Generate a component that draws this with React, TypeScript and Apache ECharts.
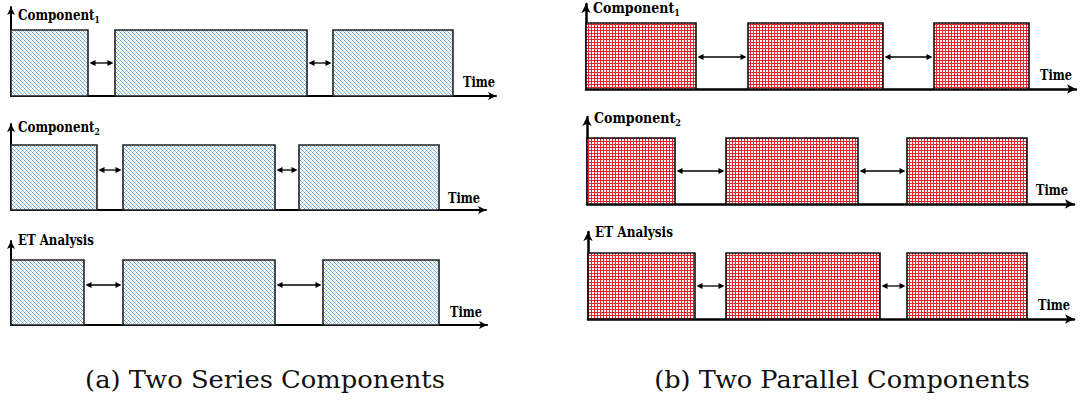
import { useEffect, useRef } from "react";
import * as echarts from "echarts";

// ---------------- DATA ----------------
const panelCaptions = ["(a) Two Series Components", "(b) Two Parallel Components"];
const rowNames = ["Component", "Component", "ET Analysis", "Component", "Component", "ET Analysis"];
const rowSubscripts = ["1", "2", "", "1", "2", ""];
const timeAxisName = "Time";

// busy intervals [start, end] in time units, per timeline
const seriesComp1Busy = [[0, 77], [104, 296], [322, 442]];
const seriesComp2Busy = [[0, 86], [112, 264], [288, 428]];
const seriesETBusy = [[0, 73], [112, 264], [312, 428]];
const parallelComp1Busy = [[0, 110], [162, 297], [348, 443]];
const parallelComp2Busy = [[0, 88], [139, 271], [320, 440]];
const parallelETBusy = [[0, 107], [138, 292], [319, 439]];

const timeAxisMax = [485, 475, 476, 490, 487, 486];
const levelAxisMax = [89, 86, 84, 85, 87, 87];
const busyLevel = [66, 65, 65, 66, 66, 66];
const idleArrowLevel = [33, 40, 40, 32, 33, 33];

// ---------------- LAYOUT ----------------
const FONT = "DejaVu Serif";
const gridBoxes = [
  { left: 11, top: 7 },
  { left: 11, top: 124 },
  { left: 11, top: 241 },
  { left: 586, top: 4 },
  { left: 587, top: 117 },
  { left: 588, top: 232 },
];
const labelPos = [
  [18, 15], [18, 127], [18, 240], [593, 8], [594, 118], [595, 232],
];
const labelWidth = [82, 82, 76, 87, 87, 78];
const timePos = [
  [495, 82], [480, 198], [482, 312], [1072, 75], [1068, 190], [1070, 305],
];
const timeWidth = 32;
const captionLayout = [
  { cx: 265, width: 360 },
  { cx: 842, width: 376 },
];
const captionY = 380;

function makeTile(kind: "blue" | "red"): string {
  const c = document.createElement("canvas");
  const n = kind === "blue" ? 4 : 3;
  c.width = n;
  c.height = n;
  const ctx = c.getContext("2d")!;
  ctx.fillStyle = "#ffffff";
  ctx.fillRect(0, 0, n, n);
  if (kind === "blue") {
    ctx.fillStyle = "#5e9ddb";
    ctx.fillRect(0, 0, 1, 1);
    ctx.fillRect(2, 2, 1, 1);
    ctx.fillStyle = "#8fbde9";
    ctx.fillRect(1, 1, 1, 1);
    ctx.fillRect(3, 3, 1, 1);
    ctx.fillStyle = "#c2daf3";
    ctx.fillRect(3, 1, 1, 1);
    ctx.fillRect(1, 3, 1, 1);
  } else {
    ctx.fillStyle = "#e2262b";
    ctx.fillRect(0, 0, n, 1);
    ctx.fillRect(0, 0, 1, n);
  }
  return c.toDataURL();
}

export default function App() {
  const ref = useRef<HTMLDivElement>(null);
  useEffect(() => {
    document.body.style.margin = "0";
    const chart = echarts.init(ref.current!, null, { renderer: "svg" });

    const bluePattern = { image: makeTile("blue"), repeat: "repeat", imageWidth: 4, imageHeight: 4 };
    const redPattern = { image: makeTile("red"), repeat: "repeat", imageWidth: 3, imageHeight: 3 };

    const mctx = document.createElement("canvas").getContext("2d")!;
    const measure = (t: string, font: string) => {
      mctx.font = font;
      return mctx.measureText(t).width || 1;
    };

    const busyAll = [seriesComp1Busy, seriesComp2Busy, seriesETBusy, parallelComp1Busy, parallelComp2Busy, parallelETBusy];

    const grids: any[] = [];
    const xAxes: any[] = [];
    const yAxes: any[] = [];
    const series: any[] = [];
    const graphics: any[] = [];

    busyAll.forEach((busy, i) => {
      const right = i >= 3;
      const axW = right ? 2.5 : 2;
      const sym = right ? [7, 9] : [6, 8];
      grids.push({
        left: gridBoxes[i].left,
        top: gridBoxes[i].top,
        width: timeAxisMax[i],
        height: levelAxisMax[i],
        containLabel: false,
      });
      const axisCommon = {
        type: "value",
        gridIndex: i,
        min: 0,
        axisTick: { show: false },
        axisLabel: { show: false },
        splitLine: { show: false },
        axisLine: {
          show: true,
          onZero: true,
          symbol: ["none", "arrow"],
          symbolSize: sym,
          lineStyle: { color: "#000", width: axW },
        },
      };
      xAxes.push({ ...axisCommon, max: timeAxisMax[i] });
      yAxes.push({ ...axisCommon, max: levelAxisMax[i] });

      const fill = right ? redPattern : bluePattern;
      series.push({
        type: "custom",
        xAxisIndex: i,
        yAxisIndex: i,
        clip: false,
        z: 3,
        data: busy.map(([s, e]) => [s, e, busyLevel[i]]),
        renderItem: (_p: any, api: any) => {
          const p0 = api.coord([api.value(0), 0]);
          const p1 = api.coord([api.value(1), api.value(2)]);
          return {
            type: "rect",
            shape: { x: p0[0], y: p1[1], width: p1[0] - p0[0], height: p0[1] - p1[1] },
            style: { fill, stroke: right ? "#111" : "#222", lineWidth: 1.6 },
          };
        },
      });

      const gaps: number[][] = [];
      for (let k = 0; k < busy.length - 1; k++) {
        gaps.push([busy[k][1], busy[k + 1][0], idleArrowLevel[i]]);
      }
      series.push({
        type: "custom",
        xAxisIndex: i,
        yAxisIndex: i,
        clip: false,
        z: 4,
        data: gaps,
        renderItem: (_p: any, api: any) => {
          const a = api.coord([api.value(0), api.value(2)]);
          const b = api.coord([api.value(1), api.value(2)]);
          const x1 = a[0] + 1.5;
          const x2 = b[0] - 1.5;
          const y = a[1];
          const L = 6;
          const W = 3;
          return {
            type: "group",
            children: [
              { type: "line", shape: { x1: x1 + 2, y1: y, x2: x2 - 2, y2: y }, style: { stroke: "#000", lineWidth: 1.3 } },
              { type: "polygon", shape: { points: [[x1, y], [x1 + L, y - W], [x1 + L, y + W]] }, style: { fill: "#000" } },
              { type: "polygon", shape: { points: [[x2, y], [x2 - L, y - W], [x2 - L, y + W]] }, style: { fill: "#000" } },
            ],
          };
        },
      });

      const sub = rowSubscripts[i];
      const wMain = measure(rowNames[i], `bold 14px '${FONT}'`);
      const wSub = sub ? measure(sub, `bold 9px '${FONT}'`) : 0;
      graphics.push({
        type: "text",
        x: labelPos[i][0],
        y: labelPos[i][1],
        scaleX: labelWidth[i] / (wMain + wSub),
        style: {
          text: sub ? `{m|${rowNames[i]}}{s|${sub}}` : `{m|${rowNames[i]}}`,
          align: "left",
          verticalAlign: "middle",
          fill: "#000",
          rich: {
            m: { fontFamily: FONT, fontWeight: "bold", fontSize: 14, lineHeight: 18, fill: "#000" },
            s: { fontFamily: FONT, fontWeight: "bold", fontSize: 9, lineHeight: 11, verticalAlign: "bottom", fill: "#000" },
          },
        },
      });
      const wTime = measure(timeAxisName, `bold 14px '${FONT}'`);
      graphics.push({
        type: "text",
        x: timePos[i][0],
        y: timePos[i][1],
        scaleX: timeWidth / wTime,
        style: {
          text: timeAxisName,
          align: "right",
          verticalAlign: "middle",
          fontFamily: FONT,
          fontWeight: "bold",
          fontSize: 14,
          fill: "#000",
        },
      });
    });

    panelCaptions.forEach((t, j) => {
      const w = measure(t, `24px '${FONT}'`);
      graphics.push({
        type: "text",
        x: captionLayout[j].cx,
        y: captionY,
        scaleX: captionLayout[j].width / w,
        style: {
          text: t,
          align: "center",
          verticalAlign: "middle",
          fontFamily: FONT,
          fontSize: 24,
          fill: "#111",
        },
      });
    });

    chart.setOption({
      animation: false,
      backgroundColor: "#fff",
      grid: grids,
      xAxis: xAxes,
      yAxis: yAxes,
      series,
      graphic: graphics,
    });
    return () => chart.dispose();
  }, []);
  return <div ref={ref} style={{ width: 1086, height: 402 }} />;
}
